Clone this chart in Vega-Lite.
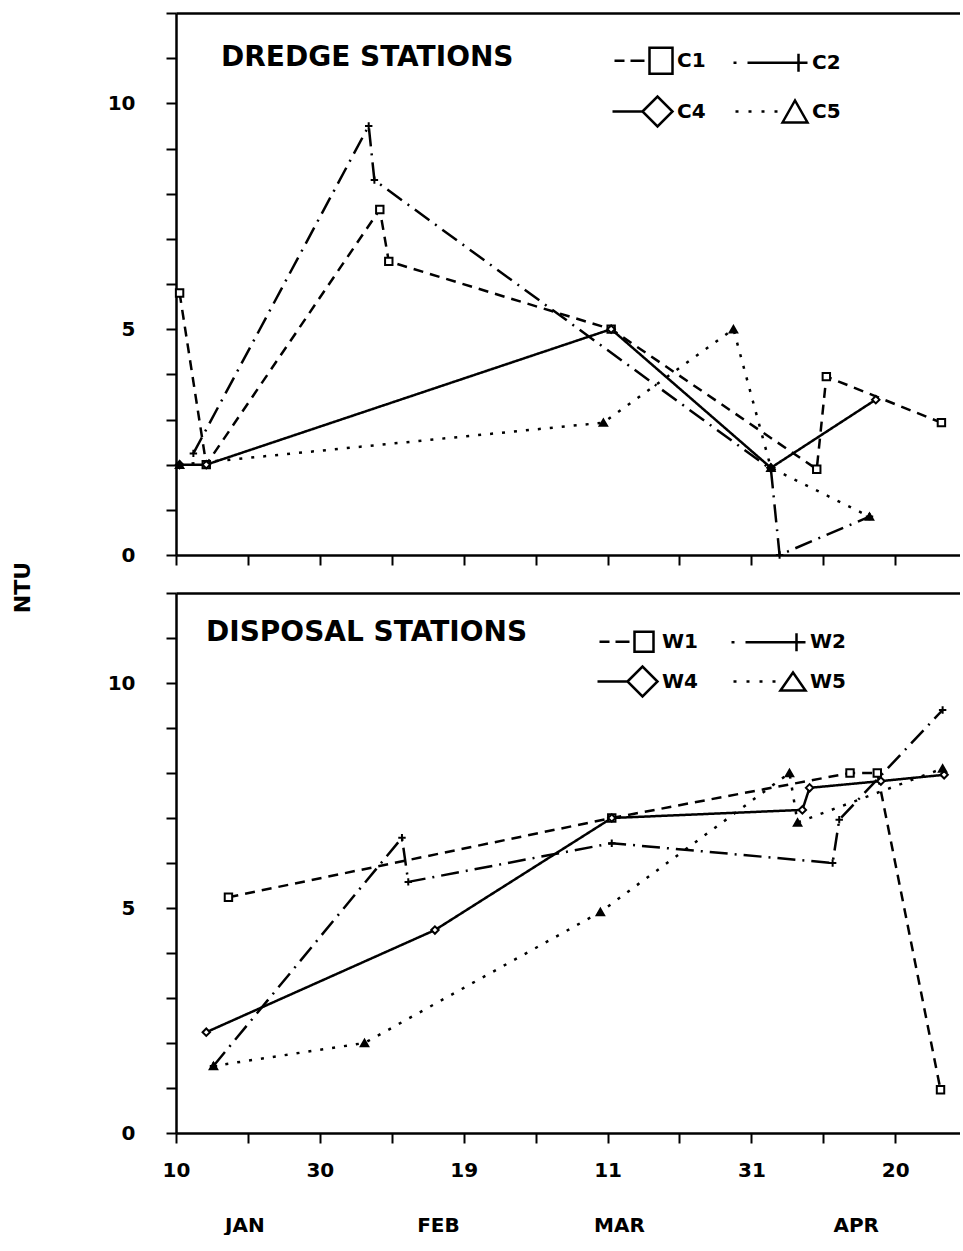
{
  "$schema": "https://vega.github.io/schema/vega-lite/v6.json",
  "padding": {"left": 11, "top": 12, "right": 0, "bottom": 0},
  "background": "white",
  "datasets": {
    "dredge": [
      {"station": "C1", "date": "1983-01-10T12:00", "ntu": 5.8},
      {"station": "C1", "date": "1983-01-14T05:00", "ntu": 2.0},
      {"station": "C1", "date": "1983-02-07T08:00", "ntu": 7.65},
      {"station": "C1", "date": "1983-02-08T14:00", "ntu": 6.5},
      {"station": "C1", "date": "1983-03-11T12:00", "ntu": 5.0},
      {"station": "C1", "date": "1983-04-09T02:00", "ntu": 1.9},
      {"station": "C1", "date": "1983-04-10T10:00", "ntu": 3.95},
      {"station": "C1", "date": "1983-04-26T10:00", "ntu": 2.93},
      {"station": "C2", "date": "1983-01-12T10:00", "ntu": 2.25},
      {"station": "C2", "date": "1983-02-05T19:00", "ntu": 9.5},
      {"station": "C2", "date": "1983-02-06T14:00", "ntu": 8.3},
      {"station": "C2", "date": "1983-04-02T17:00", "ntu": 1.9},
      {"station": "C2", "date": "1983-04-03T22:00", "ntu": 0.0},
      {"station": "C2", "date": "1983-04-16T10:00", "ntu": 0.85},
      {"station": "C4", "date": "1983-01-10T12:00", "ntu": 2.0},
      {"station": "C4", "date": "1983-01-14T05:00", "ntu": 2.0},
      {"station": "C4", "date": "1983-03-11T12:00", "ntu": 5.0},
      {"station": "C4", "date": "1983-04-02T17:00", "ntu": 1.93},
      {"station": "C4", "date": "1983-04-17T07:00", "ntu": 3.44},
      {"station": "C5", "date": "1983-01-10T12:00", "ntu": 2.0},
      {"station": "C5", "date": "1983-03-10T10:00", "ntu": 2.93},
      {"station": "C5", "date": "1983-03-28T12:00", "ntu": 5.0},
      {"station": "C5", "date": "1983-04-02T17:00", "ntu": 1.93},
      {"station": "C5", "date": "1983-04-16T10:00", "ntu": 0.85}
    ],
    "disposal": [
      {"station": "W1", "date": "1983-01-17T07:00", "ntu": 5.24},
      {"station": "W1", "date": "1983-03-11T14:00", "ntu": 7.0},
      {"station": "W1", "date": "1983-04-13T17:00", "ntu": 8.0},
      {"station": "W1", "date": "1983-04-17T12:00", "ntu": 8.0},
      {"station": "W1", "date": "1983-04-26T07:00", "ntu": 0.96},
      {"station": "W2", "date": "1983-01-15T05:00", "ntu": 1.49},
      {"station": "W2", "date": "1983-02-10T10:00", "ntu": 6.56},
      {"station": "W2", "date": "1983-02-11T07:00", "ntu": 5.58},
      {"station": "W2", "date": "1983-03-11T14:00", "ntu": 6.44},
      {"station": "W2", "date": "1983-04-11T07:00", "ntu": 6.0},
      {"station": "W2", "date": "1983-04-12T05:00", "ntu": 6.96},
      {"station": "W2", "date": "1983-04-26T14:00", "ntu": 9.4},
      {"station": "W4", "date": "1983-01-14T05:00", "ntu": 2.24},
      {"station": "W4", "date": "1983-02-15T00:00", "ntu": 4.51},
      {"station": "W4", "date": "1983-03-11T14:00", "ntu": 7.0},
      {"station": "W4", "date": "1983-04-07T02:00", "ntu": 7.18},
      {"station": "W4", "date": "1983-04-08T02:00", "ntu": 7.67},
      {"station": "W4", "date": "1983-04-18T00:00", "ntu": 7.82},
      {"station": "W4", "date": "1983-04-26T19:00", "ntu": 7.96},
      {"station": "W5", "date": "1983-01-15T05:00", "ntu": 1.49},
      {"station": "W5", "date": "1983-02-05T05:00", "ntu": 2.0},
      {"station": "W5", "date": "1983-03-10T00:00", "ntu": 4.91},
      {"station": "W5", "date": "1983-04-05T07:00", "ntu": 8.0},
      {"station": "W5", "date": "1983-04-06T10:00", "ntu": 6.9},
      {"station": "W5", "date": "1983-04-26T14:00", "ntu": 8.1}
    ]
  },
  "bounds": "flush",
  "spacing": 38,
  "vconcat": [
    {
      "width": 784,
      "height": 542,
      "title": {"text": "DREDGE STATIONS", "anchor": "start", "frame": "group", "baseline": "top", "offset": 0, "dx": 45, "dy": 60},
      "data": {"name": "dredge"},
      "layer": [
        {
          "mark": {"type": "line", "color": "black", "strokeWidth": 2.5},
          "encoding": {
            "x": {
              "field": "date", "type": "temporal",
              "scale": {"domain": [{"year": 1983, "month": 1, "date": 10}, {"year": 1983, "month": 4, "date": 29}]},
              "axis": {
                "orient": "bottom", "title": null, "labels": false, "ticks": true, "domain": true,
                "values": [
                  {"year": 1983, "month": 1, "date": 10}, {"year": 1983, "month": 1, "date": 20}, {"year": 1983, "month": 1, "date": 30},
                  {"year": 1983, "month": 2, "date": 9}, {"year": 1983, "month": 2, "date": 19}, {"year": 1983, "month": 3, "date": 1},
                  {"year": 1983, "month": 3, "date": 11}, {"year": 1983, "month": 3, "date": 21}, {"year": 1983, "month": 3, "date": 31},
                  {"year": 1983, "month": 4, "date": 10}, {"year": 1983, "month": 4, "date": 20}
                ]
              }
            },
            "y": {
              "field": "ntu", "type": "quantitative",
              "scale": {"domain": [0, 12], "nice": false},
              "axis": {
                "values": [0, 1, 2, 3, 4, 5, 6, 7, 8, 9, 10, 11, 12],
                "labelExpr": "datum.value % 5 == 0 ? datum.label : ''",
                "labelPadding": 31,
                "title": "NTU", "titleX": -142, "titleY": 574, "titleFontSize": 22, "titleAlign": "center"
              }
            },
            "strokeDash": {
              "field": "station", "type": "nominal",
              "scale": {"domain": ["C1", "C2", "C4", "C5"], "range": [[10, 7], [18, 7, 2, 7], [1, 0], [3, 9]]},
              "legend": null
            }
          }
        },
        {
          "mark": {"type": "point", "filled": true, "stroke": "black", "strokeWidth": 2, "size": 55, "opacity": 1},
          "encoding": {
            "x": {"field": "date", "type": "temporal", "axis": {"orient": "top", "labels": false, "ticks": false, "domain": true, "title": null}},
            "y": {"field": "ntu", "type": "quantitative", "axis": null},
            "shape": {
              "field": "station", "type": "nominal",
              "scale": {"domain": ["C1", "C2", "C4", "C5"], "range": ["square", "M-1,0H1M0,-1V1", "diamond", "triangle-up"]},
              "legend": null
            },
            "fill": {
              "field": "station", "type": "nominal",
              "scale": {"domain": ["C1", "C2", "C4", "C5"], "range": ["white", "white", "white", "black"]},
              "legend": null
            }
          }
        },
        {
          "transform": [{"filter": "false"}],
          "mark": {"type": "point", "filled": false, "color": "black", "strokeWidth": 2.5, "opacity": 1},
          "encoding": {
            "x": {"field": "date", "type": "temporal", "axis": null},
            "y": {"field": "ntu", "type": "quantitative", "axis": null},
            "shape": {
              "field": "station", "type": "nominal",
              "scale": {
                "domain": ["C1", "C2", "C4", "C5"],
                "range": [
                  "M-0.8,0H0.2M0.8,0H2.2M2.7,-1.3H5V1.3H2.7Z",
                  "M-2.4,0H-2.1M-1,0H5M4.1,-0.9V0.9",
                  "M-1,0H2M2,0L3.5,-1.5L5,0L3.5,1.5Z",
                  "M-2.2,0H-1.9M-0.9,0H-0.6M0.4,0H0.7M1.7,0H2M2.5,1.1L3.75,-1.1L5,1.1Z"
                ]
              },
              "legend": {
                "orient": "none", "legendX": 435, "legendY": 36, "direction": "horizontal", "columns": 2,
                "title": null, "padding": 0, "symbolSize": 400, "symbolStrokeWidth": 2.5, "symbolStrokeColor": "black",
                "labelOffset": 43, "columnPadding": 22, "rowPadding": 12,
                "labelFont": "DejaVu Sans", "labelFontSize": 20, "labelFontWeight": "bold", "labelColor": "black"
              }
            }
          }
        }
      ],
      "resolve": {"scale": {"shape": "independent"}, "axis": {"x": "independent", "y": "independent"}}
    },
    {
      "width": 784,
      "height": 540,
      "title": {"text": "DISPOSAL STATIONS", "anchor": "start", "frame": "group", "baseline": "top", "offset": 0, "dx": 30, "dy": 55},
      "data": {"name": "disposal"},
      "layer": [
        {
          "mark": {"type": "line", "color": "black", "strokeWidth": 2.5},
          "encoding": {
            "x": {
              "field": "date", "type": "temporal",
              "scale": {"domain": [{"year": 1983, "month": 1, "date": 10}, {"year": 1983, "month": 4, "date": 29}]},
              "axis": {
                "orient": "bottom", "title": null, "ticks": true, "domain": true, "labelPadding": 17,
                "labelFlush": false, "labelOverlap": false,
                "values": [
                  {"year": 1983, "month": 1, "date": 10}, {"year": 1983, "month": 1, "date": 20}, {"year": 1983, "month": 1, "date": 30},
                  {"year": 1983, "month": 2, "date": 9}, {"year": 1983, "month": 2, "date": 19}, {"year": 1983, "month": 3, "date": 1},
                  {"year": 1983, "month": 3, "date": 11}, {"year": 1983, "month": 3, "date": 21}, {"year": 1983, "month": 3, "date": 31},
                  {"year": 1983, "month": 4, "date": 10}, {"year": 1983, "month": 4, "date": 20}
                ],
                "labelExpr": "indexof(['1-10','1-30','2-19','3-11','3-31','4-20'], timeFormat(datum.value, '%-m-%-d')) >= 0 ? timeFormat(datum.value, '%-d') : ''"
              }
            },
            "y": {
              "field": "ntu", "type": "quantitative",
              "scale": {"domain": [0, 12], "nice": false},
              "axis": {
                "values": [0, 1, 2, 3, 4, 5, 6, 7, 8, 9, 10, 11, 12],
                "labelExpr": "datum.value % 5 == 0 ? datum.label : ''",
                "labelPadding": 31,
                "title": null
              }
            },
            "strokeDash": {
              "field": "station", "type": "nominal",
              "scale": {"domain": ["W1", "W2", "W4", "W5"], "range": [[10, 7], [18, 7, 2, 7], [1, 0], [3, 9]]},
              "legend": null
            }
          }
        },
        {
          "mark": {"type": "point", "filled": true, "stroke": "black", "strokeWidth": 2, "size": 55, "opacity": 1},
          "encoding": {
            "x": {"field": "date", "type": "temporal", "axis": {"orient": "top", "labels": false, "ticks": false, "domain": true, "title": null}},
            "y": {"field": "ntu", "type": "quantitative", "axis": null},
            "shape": {
              "field": "station", "type": "nominal",
              "scale": {"domain": ["W1", "W2", "W4", "W5"], "range": ["square", "M-1,0H1M0,-1V1", "diamond", "triangle-up"]},
              "legend": null
            },
            "fill": {
              "field": "station", "type": "nominal",
              "scale": {"domain": ["W1", "W2", "W4", "W5"], "range": ["white", "white", "white", "black"]},
              "legend": null
            }
          }
        },
        {
          "transform": [{"filter": "false"}],
          "mark": {"type": "point", "filled": false, "color": "black", "strokeWidth": 2.5, "opacity": 1},
          "encoding": {
            "x": {
              "field": "date", "type": "temporal",
              "axis": {
                "orient": "bottom", "title": null, "ticks": false, "domain": false, "labelPadding": 82,
                "labelFlush": false, "labelOverlap": false,
                "values": [
                  {"year": 1983, "month": 1, "date": 19, "hours": 12}, {"year": 1983, "month": 2, "date": 15, "hours": 10},
                  {"year": 1983, "month": 3, "date": 12, "hours": 14}, {"year": 1983, "month": 4, "date": 14, "hours": 12}
                ],
                "labelExpr": "upper(timeFormat(datum.value, '%b'))"
              }
            },
            "y": {"field": "ntu", "type": "quantitative", "axis": null},
            "shape": {
              "field": "station", "type": "nominal",
              "scale": {
                "domain": ["W1", "W2", "W4", "W5"],
                "range": [
                  "M-0.8,0H0.2M0.8,0H2.2M2.7,-1.0H4.6V1.0H2.7Z",
                  "M-2.4,0H-2.1M-1,0H5M4.1,-0.9V0.9",
                  "M-1,0H2M2,0L3.5,-1.5L5,0L3.5,1.5Z",
                  "M-2.2,0H-1.9M-0.9,0H-0.6M0.4,0H0.7M1.7,0H2M2.5,0.9L3.75,-0.9L5,0.9Z"
                ]
              },
              "legend": {
                "orient": "none", "legendX": 420, "legendY": 37, "direction": "horizontal", "columns": 2,
                "title": null, "padding": 0, "symbolSize": 400, "symbolStrokeWidth": 2.5, "symbolStrokeColor": "black",
                "labelOffset": 43, "columnPadding": 28, "rowPadding": 4,
                "labelFont": "DejaVu Sans", "labelFontSize": 20, "labelFontWeight": "bold", "labelColor": "black"
              }
            }
          }
        }
      ],
      "resolve": {"scale": {"shape": "independent"}, "axis": {"x": "independent", "y": "independent"}}
    }
  ],
  "config": {
    "view": {"stroke": null},
    "axis": {
      "grid": false, "domainColor": "black", "domainWidth": 2.5, "tickColor": "black", "tickWidth": 2, "tickSize": 10,
      "labelColor": "black", "labelFont": "DejaVu Sans", "labelFontWeight": "bold", "labelFontSize": 20,
      "titleFont": "DejaVu Sans", "titleFontWeight": "bold", "titleColor": "black"
    },
    "title": {"font": "DejaVu Sans", "fontWeight": "bold", "fontSize": 28, "color": "black"}
  }
}
